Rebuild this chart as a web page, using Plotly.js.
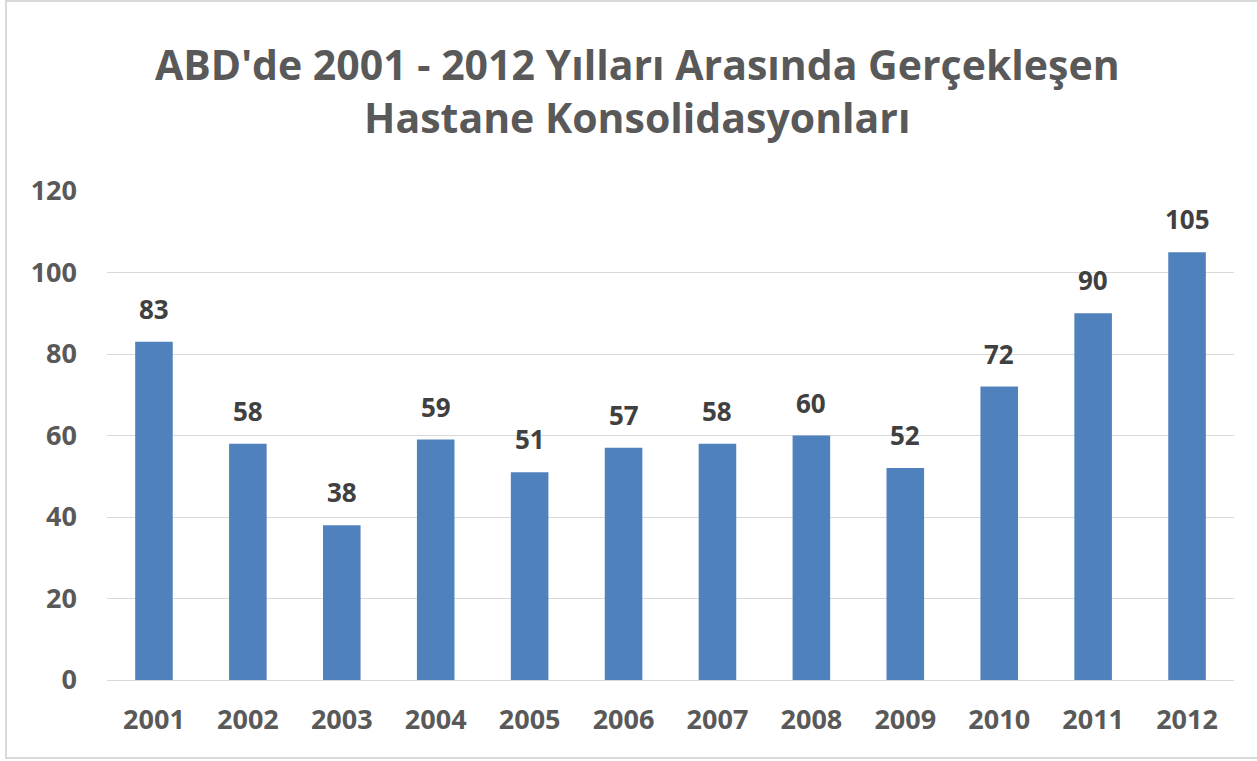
<!DOCTYPE html>
<html>
<head>
<meta charset="utf-8">
<script src="https://cdn.plot.ly/plotly-3.0.1.min.js"></script>
<style>
html,body{margin:0;padding:0;background:#fff;}
#chart{width:1257px;height:761px;position:absolute;left:0;top:0;}
#frame{position:absolute;left:5px;top:0px;width:1260px;height:759px;border:2px solid #d9d9d9;box-sizing:border-box;pointer-events:none;}
</style>
</head>
<body>
<div id="chart"></div>
<div id="frame"></div>
<script>
const years = ['2001','2002','2003','2004','2005','2006','2007','2008','2009','2010','2011','2012'];
const counts = [83,58,38,59,51,57,58,60,52,72,90,105];
const yTicks = [0,20,40,60,80,100,120];
const titleText = "ABD'de 2001 - 2012 Yılları Arasında Gerçekleşen<br>Hastane Konsolidasyonları";

const FONT = '"Open Sans", "DejaVu Sans", sans-serif';

const trace = {
  type: 'bar',
  x: years,
  y: counts,
  marker: {color: '#4F81BD'},
  hoverinfo: 'x+y'
};

const annotations = years.map((yr, i) => ({
  x: i, y: counts[i], xref: 'x', yref: 'y',
  text: String(counts[i]),
  showarrow: false,
  yanchor: 'bottom',
  yshift: 13,
  font: {family: FONT, size: 26, color: '#404040', weight: 'bold'}
}));

const layout = {
  width: 1257, height: 761,
  margin: {l: 107, r: 23, t: 191, b: 81},
  paper_bgcolor: '#ffffff',
  plot_bgcolor: '#ffffff',
  bargap: 0.6,
  showlegend: false,
  title: {
    text: titleText,
    font: {family: FONT, size: 41, color: '#595959', weight: 'bold'},
    x: 0.507, xanchor: 'center',
    y: 0.895, yref: 'container', yanchor: 'top'
  },
  xaxis: {
    type: 'category',
    categoryorder: 'array',
    categoryarray: years,
    range: [-0.5, years.length - 0.5],
    showgrid: false,
    showline: false,
    ticks: '',
    tickfont: {family: FONT, size: 27, color: '#595959', weight: 'bold'},
    ticklabelstandoff: 21
  },
  yaxis: {
    range: [0, 120],
    tickvals: yTicks,
    ticktext: yTicks.map(String),
    showgrid: true,
    gridcolor: '#d9d9d9',
    gridwidth: 1,
    zeroline: true,
    zerolinecolor: '#d9d9d9',
    zerolinewidth: 1,
    showline: false,
    ticks: '',
    tickfont: {family: FONT, size: 27, color: '#595959', weight: 'bold'},
    ticklabelstandoff: 29
  },
  annotations: annotations
};

Plotly.newPlot('chart', [trace], layout, {displayModeBar: false, staticPlot: true});
</script>
</body>
</html>
